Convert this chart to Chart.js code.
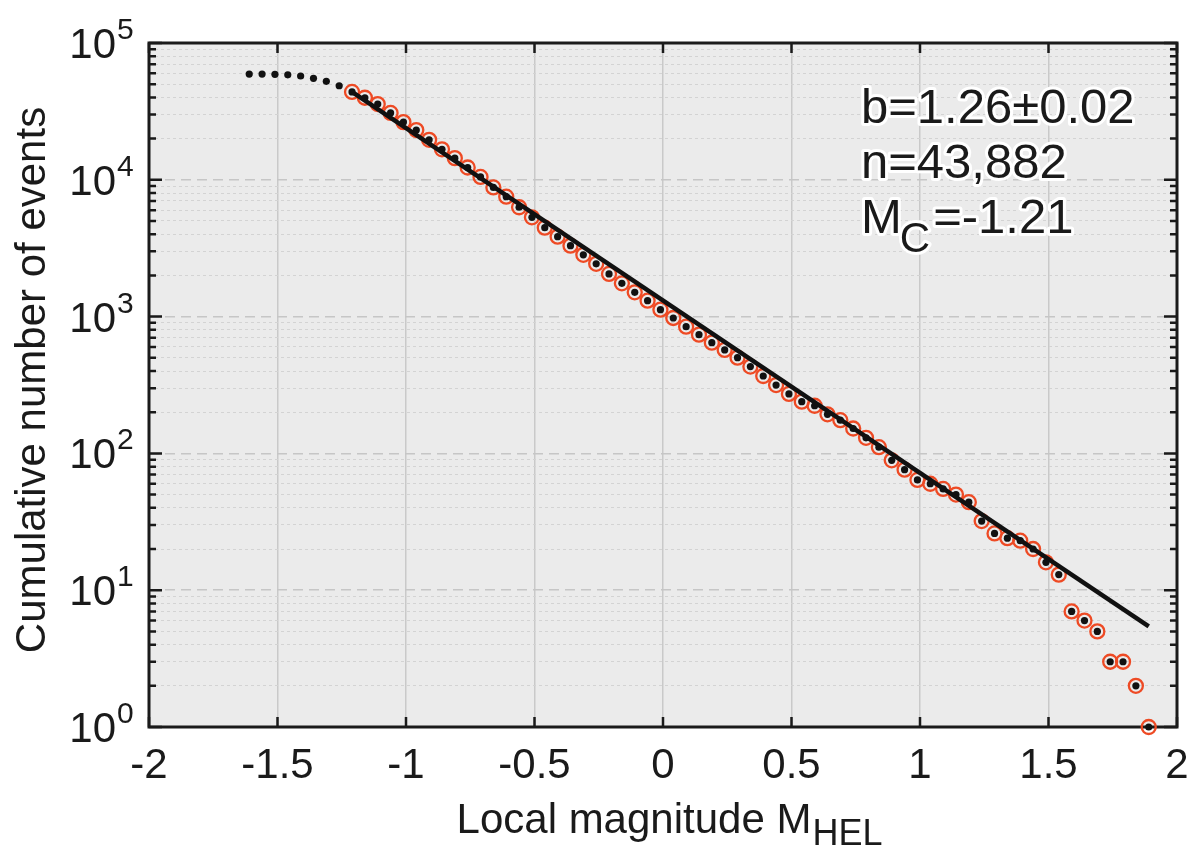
<!DOCTYPE html>
<html>
<head>
<meta charset="utf-8">
<script src="https://cdn.jsdelivr.net/npm/chart.js@4.4.1/dist/chart.umd.min.js"></script>
<style>
  html, body { margin: 0; padding: 0; background: #fff; }
  #wrap { position: relative; width: 1196px; height: 854px; }
</style>
</head>
<body>
<div id="wrap"><canvas id="grafico"></canvas></div>
<script>
// datos
const magnitudes = [-1.61, -1.56, -1.51, -1.46, -1.41, -1.36, -1.31, -1.26,
  -1.21, -1.16, -1.11, -1.06, -1.01, -0.96, -0.91, -0.86, -0.81, -0.76,
  -0.71, -0.66, -0.61, -0.56, -0.51, -0.46, -0.41, -0.36, -0.31, -0.26,
  -0.21, -0.16, -0.11, -0.06, -0.01, 0.04, 0.09, 0.14, 0.19, 0.24,
  0.29, 0.34, 0.39, 0.44, 0.49, 0.54, 0.59, 0.64, 0.69, 0.74,
  0.79, 0.84, 0.89, 0.94, 0.99, 1.04, 1.09, 1.14, 1.19, 1.24,
  1.29, 1.34, 1.39, 1.44, 1.49, 1.54, 1.59, 1.64, 1.69, 1.74,
  1.79, 1.84, 1.89];
const eventos = [59300, 59300, 59000, 58500, 57400, 55200, 52500, 48700,
  43882, 39800, 35800, 30800, 26400, 23100, 19600, 16700, 14400, 12300,
  10500, 8800, 7530, 6300, 5320, 4470, 3840, 3300, 2830, 2430,
  2050, 1750, 1505, 1307, 1124, 977, 844, 738, 645, 571,
  501, 431, 368, 316, 272, 239, 223, 193, 175, 152,
  130, 111, 89, 76, 64, 60, 55, 50, 44, 32,
  26, 24, 23, 20, 16, 13, 7, 6, 5, 3,
  3, 2, 1];
const mc = -1.21;
const ajusteMag = [-1.21, 1.89];
const ajusteN = [43900, 5.45];

const xTicks = [-2, -1.5, -1, -0.5, 0, 0.5, 1, 1.5, 2];
const yDecadas = [0, 1, 2, 3, 4, 5];
const tituloX = 'Local magnitude M';
const subX = 'HEL';
const tituloY = 'Cumulative number of events';
const textoB = 'b=1.26\u00b10.02';
const textoN = 'n=43,882';
const textoMc = '=-1.21';

const fuente = '"Liberation Sans", Arial, Helvetica, sans-serif';

// marcas del eje y: 1..9 de cada decada
const yTicks = [];
for (let d = 0; d < 5; d++) {
  for (let m = 1; m < 10; m++) yTicks.push(m * Math.pow(10, d));
}
yTicks.push(1e5);

function esDecada(v) {
  const l = Math.log10(v);
  return Math.abs(l - Math.round(l)) < 1e-9;
}

const puntos = magnitudes.map((m, i) => ({ x: m, y: eventos[i] }));
const puntosMc = puntos.filter(p => p.x >= mc - 1e-9);
const ajuste = ajusteMag.map((m, i) => ({ x: m, y: ajusteN[i] }));

const marco = {
  id: 'marco',
  beforeDraw(chart) {
    const { ctx, chartArea: a } = chart;
    ctx.save();
    ctx.fillStyle = '#ebebeb';
    ctx.fillRect(a.left, a.top, a.right - a.left, a.bottom - a.top);
    ctx.restore();
  },
  beforeDatasetsDraw(chart) {
    const { ctx, chartArea: a, scales } = chart;
    ctx.save();
    ctx.strokeStyle = '#1a1a1a';
    ctx.lineWidth = 2.5;
    ctx.beginPath();
    xTicks.forEach(v => {
      const px = scales.x.getPixelForValue(v);
      ctx.moveTo(px, a.bottom); ctx.lineTo(px, a.bottom - 10);
      ctx.moveTo(px, a.top); ctx.lineTo(px, a.top + 10);
    });
    yTicks.forEach(v => {
      const py = scales.y.getPixelForValue(v);
      const len = esDecada(v) ? 13 : 7;
      ctx.moveTo(a.left, py); ctx.lineTo(a.left + len, py);
      ctx.moveTo(a.right, py); ctx.lineTo(a.right - len, py);
    });
    ctx.stroke();
    ctx.lineWidth = 3;
    ctx.strokeRect(a.left, a.top, a.right - a.left, a.bottom - a.top);
    ctx.restore();
  },
  afterDraw(chart) {
    const { ctx, chartArea: a, scales } = chart;
    ctx.save();
    ctx.fillStyle = '#1a1a1a';

    // etiquetas eje x
    ctx.font = '42px ' + fuente;
    ctx.textAlign = 'center';
    ctx.textBaseline = 'alphabetic';
    xTicks.forEach(v => {
      ctx.fillText(String(v), scales.x.getPixelForValue(v), a.bottom + 51);
    });

    // etiquetas eje y (10 con exponente)
    yDecadas.forEach(d => {
      const py = scales.y.getPixelForValue(Math.pow(10, d));
      ctx.font = '42px ' + fuente;
      ctx.textAlign = 'right';
      ctx.fillText('10', 116, py + 15);
      ctx.font = '30px ' + fuente;
      ctx.textAlign = 'left';
      ctx.fillText(String(d), 117, py - 4);
    });

    // titulo eje x con subindice
    ctx.font = '42px ' + fuente;
    const w1 = ctx.measureText(tituloX).width;
    ctx.font = '36px ' + fuente;
    const w2 = ctx.measureText(subX).width;
    let x0 = 669 - (w1 + w2) / 2;
    ctx.textAlign = 'left';
    ctx.font = '42px ' + fuente;
    ctx.fillText(tituloX, x0, 833);
    ctx.font = '36px ' + fuente;
    ctx.fillText(subX, x0 + w1 + 1, 845);

    // titulo eje y
    ctx.save();
    ctx.translate(45, 380);
    ctx.rotate(-Math.PI / 2);
    ctx.textAlign = 'center';
    ctx.font = '42px ' + fuente;
    ctx.fillText(tituloY, 0, 0);
    ctx.restore();

    // texto con borde blanco
    const conBorde = (t, x, y, tam) => {
      ctx.font = tam + 'px ' + fuente;
      ctx.lineJoin = 'round';
      ctx.lineWidth = 6;
      ctx.strokeStyle = '#fff';
      ctx.strokeText(t, x, y);
      ctx.fillStyle = '#1a1a1a';
      ctx.fillText(t, x, y);
      return ctx.measureText(t).width;
    };
    ctx.textAlign = 'left';
    conBorde(textoB, 861, 123, 49);
    conBorde(textoN, 861, 178, 49);
    const wm = conBorde('M', 861, 233, 49);
    const wc = conBorde('C', 861 + wm - 2, 252, 42);
    conBorde(textoMc, 861 + wm - 2 + wc + 3, 233, 49);

    ctx.restore();
  }
};

const ctx = document.getElementById('grafico').getContext('2d');
const grafico = new Chart(ctx, {
  type: 'scatter',
  data: {
    datasets: [
      {
        label: 'eventos',
        data: puntos,
        pointRadius: 3.6,
        pointBackgroundColor: '#111',
        pointBorderWidth: 0,
        clip: false,
        order: 0
      },
      {
        label: 'ajuste',
        data: ajuste,
        showLine: true,
        borderColor: '#111',
        borderWidth: 4.5,
        pointRadius: 0,
        clip: false,
        order: 1
      },
      {
        label: 'mc',
        data: puntosMc,
        pointRadius: 7,
        pointBorderColor: '#ee4a24',
        pointBorderWidth: 2.3,
        pointBackgroundColor: 'rgba(0,0,0,0)',
        clip: false,
        order: 2
      }
    ]
  },
  options: {
    responsive: true,
    maintainAspectRatio: false,
    animation: false,
    events: [],
    layout: { padding: { left: 0, top: 43, right: 19, bottom: 0 } },
    plugins: { legend: { display: false }, tooltip: { enabled: false } },
    scales: {
      x: {
        type: 'linear',
        min: -2,
        max: 2,
        afterBuildTicks: s => { s.ticks = xTicks.map(v => ({ value: v })); },
        afterFit: s => { s.height = 127; },
        ticks: { display: false },
        grid: { color: '#c9c9c9', lineWidth: 1.5, drawTicks: false },
        border: { display: false }
      },
      y: {
        type: 'logarithmic',
        min: 1,
        max: 1e5,
        afterBuildTicks: s => { s.ticks = yTicks.map(v => ({ value: v })); },
        afterFit: s => { s.width = 149; },
        ticks: { display: false },
        grid: {
          drawTicks: false,
          color: c => esDecada(c.tick.value) ? '#c6c6c6' : '#d3d3d3',
          lineWidth: c => esDecada(c.tick.value) ? 1.6 : 1
        },
        border: {
          display: false,
          dash: c => esDecada(c.tick.value) ? [10, 6] : [3, 3]
        }
      }
    }
  },
  plugins: [marco]
});
</script>
</body>
</html>
